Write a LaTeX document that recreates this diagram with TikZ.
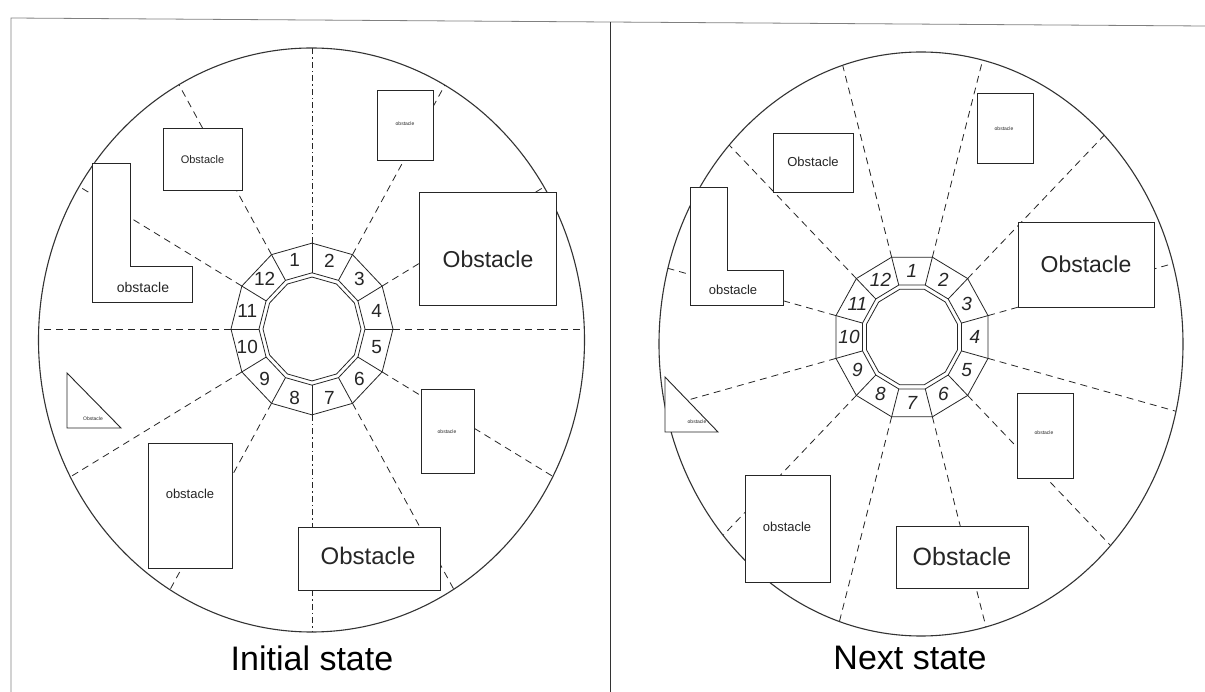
\documentclass[tikz,border=0pt]{standalone}
\usepackage{fontspec}
\setmainfont{Liberation Sans}
\begin{document}
\begin{tikzpicture}[x=1pt,y=-1pt,
  ray/.style={line width=0.8pt, draw=black!85, dash pattern=on 7pt off 5pt},
  rayv/.style={line width=0.8pt, draw=black!85, dash pattern=on 6pt off 3pt on 1.5pt off 3pt},
  rim/.style={line width=1.1pt, draw=black!80},
  ringline/.style={line width=0.8pt, draw=black!85},
  obsbox/.style={draw=black!85, fill=white, line width=0.9pt, inner sep=0pt},
  obsshape/.style={draw=black!85, fill=white, line width=0.9pt},
  obstext/.style={inner sep=0pt, text=black!85},
  cellnum/.style={font=\fontsize{19}{19}\selectfont, inner sep=0pt, text=black!85},
  title/.style={font=\fontsize{34}{34}\selectfont, inner sep=0pt}]
\useasboundingbox (0,0) rectangle (1205,692);
\fill[white] (0,0) rectangle (1205,692);
% frame
\draw[gray, line width=0.8pt] (11,692) -- (11,18) -- (1205,26);
\draw[black!80, line width=0.8pt] (610,22) -- (610,692);

% ================= LEFT PANEL =================
\begin{scope}
  \clip (311.5,340) ellipse [x radius=273, y radius=292];
  \begin{scope}[shift={(312,329)}, yscale=-1.06]
    \foreach \a in {0,30,60,120,150,180,210,240,300,330}
      \draw[ray] (\a:81) -- (\a:420);
    \foreach \a in {90,270}
      \draw[rayv] (\a:81) -- (\a:420);
  \end{scope}
\end{scope}
\draw[rim] (311.5,340) ellipse [x radius=273, y radius=292];
\begin{scope}[shift={(312,329)}, yscale=-1.06]
  \draw[ringline] (0:81) \foreach \a in {30,60,...,330}{ -- (\a:81)} -- cycle;
  \draw[ringline] (0:53) \foreach \a in {30,60,...,330}{ -- (\a:53)} -- cycle;
  \draw[ringline] (0:49) \foreach \a in {30,60,...,330}{ -- (\a:49)} -- cycle;
  \foreach \a in {0,30,...,330}
    \draw[ringline] (\a:53) -- (\a:81);
  \foreach \k in {1,...,12}
    \node[cellnum] (Lc\k) at ({105-30*(\k-1)}:67) {\k};
\end{scope}

% obstacles left
\node[obsbox, minimum width=79pt, minimum height=62pt] (LA) at (202.5,159) {};
\node[obstext, font=\fontsize{11}{11}\selectfont] (LAt) at (202.5,160) {Obstacle};
\node[obsbox, minimum width=56pt, minimum height=70pt] (LB) at (405,125) {};
\node[obstext, font=\fontsize{5}{5}\selectfont] (LBt) at (405,124) {obstacle};
\node[obsbox, minimum width=137pt, minimum height=113pt] (LC) at (487.5,248.5) {};
\node[obstext, font=\fontsize{23}{23}\selectfont] (LCt) at (488,259) {Obstacle};
\draw[obsshape] (92,163) -- (130,163) -- (130,266) -- (192,266) -- (192,302) -- (92,302) -- cycle;
\node[obstext, font=\fontsize{14}{14}\selectfont] (LDt) at (143,287) {obstacle};
\draw[obsshape] (67,373) -- (67,428) -- (121,428) -- cycle;
\node[obstext, font=\fontsize{5}{5}\selectfont] (LEt) at (93,419) {Obstacle};
\node[obsbox, minimum width=84pt, minimum height=125pt] (LF) at (190,505.5) {};
\node[obstext, font=\fontsize{13}{13}\selectfont] (LFt) at (190,494) {obstacle};
\node[obsbox, minimum width=53pt, minimum height=84pt] (LG) at (447.5,431) {};
\node[obstext, font=\fontsize{5}{5}\selectfont] (LGt) at (447,432) {obstacle};
\node[obsbox, minimum width=142pt, minimum height=63pt] (LH) at (369,558.5) {};
\node[obstext, font=\fontsize{24}{24}\selectfont] (LHt) at (368,556) {Obstacle};

% ================= RIGHT PANEL =================
\begin{scope}
  \clip (921,344) ellipse [x radius=262, y radius=292];
  \begin{scope}[shift={(912,337)}, yscale=-1.05]
    \foreach \a in {15,45,...,345}
      \draw[ray] (\a:78.7) -- (\a:420);
  \end{scope}
\end{scope}
\draw[rim] (921,344) ellipse [x radius=262, y radius=292];
\begin{scope}[shift={(912,337)}, yscale=-1.05]
  \draw[ringline] (15:78.7) \foreach \a in {45,75,...,345}{ -- (\a:78.7)} -- cycle;
  \draw[ringline] (15:51.2) \foreach \a in {45,75,...,345}{ -- (\a:51.2)} -- cycle;
  \draw[ringline] (15:47.1) \foreach \a in {45,75,...,345}{ -- (\a:47.1)} -- cycle;
  \foreach \a in {15,45,...,345}
    \draw[ringline] (\a:51.2) -- (\a:78.7);
  \foreach \k in {1,...,12}
    \node[cellnum, font=\fontsize{19}{19}\selectfont\itshape] (Rc\k) at ({90-30*(\k-1)}:63) {\k};
\end{scope}

% obstacles right
\node[obsbox, minimum width=80pt, minimum height=59pt] (RA) at (813,162.5) {};
\node[obstext, font=\fontsize{13}{13}\selectfont] (RAt) at (813,162) {Obstacle};
\node[obsbox, minimum width=56pt, minimum height=70pt] (RB) at (1005,128) {};
\node[obstext, font=\fontsize{5}{5}\selectfont] (RBt) at (1004,129) {obstacle};
\node[obsbox, minimum width=136pt, minimum height=85pt] (RC) at (1086,264.5) {};
\node[obstext, font=\fontsize{23}{23}\selectfont] (RCt) at (1086,264) {Obstacle};
\draw[obsshape] (690,187) -- (727,187) -- (727,270) -- (783,270) -- (783,305) -- (690,305) -- cycle;
\node[obstext, font=\fontsize{13}{13}\selectfont] (RDt) at (733,290) {obstacle};
\draw[obsshape] (665,377) -- (665,432) -- (718,432) -- cycle;
\node[obstext, font=\fontsize{5}{5}\selectfont] (REt) at (697,422) {obstacle};
\node[obsbox, minimum width=85pt, minimum height=107pt] (RF) at (787.5,528.5) {};
\node[obstext, font=\fontsize{13}{13}\selectfont] (RFt) at (787,527) {obstacle};
\node[obsbox, minimum width=56pt, minimum height=85pt] (RG) at (1045,435.5) {};
\node[obstext, font=\fontsize{5}{5}\selectfont] (RGt) at (1044,433) {obstacle};
\node[obsbox, minimum width=132pt, minimum height=62pt] (RH) at (962,557) {};
\node[obstext, font=\fontsize{25}{25}\selectfont] (RHt) at (962,557) {Obstacle};

% titles
\node[title] (tl) at (312,658) {Initial state};
\node[title] (tr) at (910,658) {Next state};
\end{tikzpicture}
\end{document}
